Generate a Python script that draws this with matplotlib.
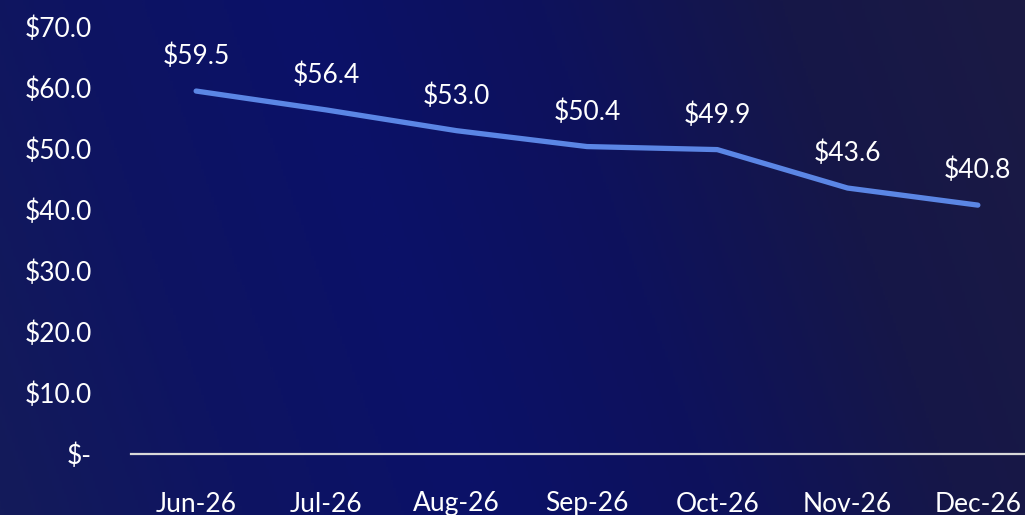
import numpy as np
import matplotlib.pyplot as plt
from matplotlib.colors import LinearSegmentedColormap

months = ['Jun-26', 'Jul-26', 'Aug-26', 'Sep-26', 'Oct-26', 'Nov-26', 'Dec-26']
prices = [59.5, 56.4, 53.0, 50.4, 49.9, 43.6, 40.8]
y_ticks = [0, 10, 20, 30, 40, 50, 60, 70]
y_tick_labels = ['$-', '$10.0', '$20.0', '$30.0', '$40.0', '$50.0', '$60.0', '$70.0']

plt.rcParams['font.family'] = ['Lato', 'DejaVu Sans']

fig = plt.figure(figsize=(10.25, 5.15), dpi=100)

# background: dark navy, a bit brighter blue in the middle, darker to the right
bg = fig.add_axes([0, 0, 1, 1])
bg.axis('off')
cmap = LinearSegmentedColormap.from_list(
    'bg', ['#141b5a', '#0e1462', '#0b1168', '#0e125c', '#161748', '#1b1a44'])
xx = np.linspace(0, 1, 400)
yy = np.linspace(0, 1, 200)
X, Y = np.meshgrid(xx, yy)
grad = X * 0.85 + 0.15 * Y
bg.imshow(grad, cmap=cmap, aspect='auto', extent=[0, 1, 0, 1], origin='lower')
bg.set_xlim(0, 1)
bg.set_ylim(0, 1)

# plot area reaches slightly past the right edge of the figure
ax = fig.add_axes([131 / 1025, 61 / 515, 912 / 1025, 427 / 515])
ax.patch.set_alpha(0)
x = np.arange(len(months))
ax.plot(x, prices, color='#5b86e5', linewidth=3.8, solid_capstyle='round')
for xi, p in zip(x, prices):
    ax.annotate(f'${p:.1f}', (xi, p), xytext=(0, 25), textcoords='offset points',
                ha='center', va='center', color='white', fontsize=19)

ax.set_xlim(-0.5, len(months) - 0.5)
ax.set_ylim(0, 70)
ax.set_yticks(y_ticks)
ax.set_yticklabels(y_tick_labels)
ax.set_xticks(x)
ax.set_xticklabels(months)
ax.tick_params(axis='both', length=0, colors='white', labelsize=19)
ax.tick_params(axis='x', pad=27)
ax.tick_params(axis='y', pad=28)
for lab in ax.get_yticklabels():
    lab.set_horizontalalignment('right')
for side in ['top', 'right', 'left']:
    ax.spines[side].set_visible(False)
ax.spines['bottom'].set_color('#d9d9d9')
ax.spines['bottom'].set_linewidth(1.6)

fig.savefig('out.png', dpi=100)
